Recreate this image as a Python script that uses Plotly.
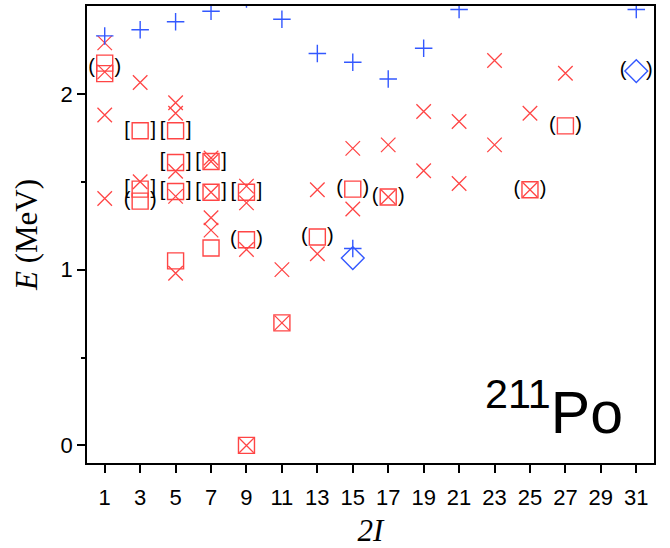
import plotly.graph_objects as go

# Level scheme of 211Po: spin (2I) vs. excitation energy E (MeV)

# Blue "+" levels
plus_2I = [1, 3, 5, 7, 9, 11, 13, 15, 17, 19, 21, 31, 15]
plus_E = [2.33, 2.365, 2.41, 2.47, 2.54, 2.425, 2.23, 2.18, 2.085, 2.26, 2.48, 2.48, 1.12]

# Red "x" levels
cross_2I = [1, 1, 1, 1,
            3, 3,
            5, 5, 5, 5, 5,
            7, 7, 7, 7, 7,
            9, 9, 9, 9,
            11, 11,
            13, 13,
            15, 15,
            17, 17,
            19, 19,
            21, 21,
            23, 23,
            25, 25,
            27, 27]
cross_E = [2.29, 2.125, 1.88, 1.405,
           2.065, 1.50,
           1.95, 1.89, 1.56, 1.417, 0.98,
           1.635, 1.615, 1.44, 1.295, 1.225,
           1.475, 1.38, 1.115, 0.0,
           1.0, 0.697,
           1.455, 1.09,
           1.69, 1.345,
           1.71, 1.413,
           1.90, 1.5625,
           1.843, 1.49,
           2.19, 1.71,
           1.89, 1.455,
           2.117, 2.55]

# Red open-square levels
square_2I = [1, 1, 3, 3, 3, 5, 5, 5, 5, 7, 7, 7, 9, 9, 9, 11, 13, 15, 17, 25, 27]
square_E = [2.175, 2.115, 1.79, 1.458, 1.39, 1.79, 1.61, 1.445, 1.05,
            1.615, 1.44, 1.123, 1.44, 1.17, 0.0, 0.697, 1.186, 1.458, 1.413,
            1.455, 1.818]

# Blue open-diamond levels
diamond_2I = [15, 31]
diamond_E = [1.066, 2.13]

# Tentative levels, shown in parentheses
paren_2I = [1, 3, 9, 13, 15, 17, 25, 27, 31]
paren_E = [2.145, 1.39, 1.17, 1.186, 1.458, 1.413, 1.455, 1.818, 2.13]

# Levels shown in square brackets
bracket_2I = [3, 3, 5, 5, 5, 7, 7, 9]
bracket_E = [1.79, 1.458, 1.79, 1.61, 1.445, 1.615, 1.44, 1.44]

x_ticks = list(range(1, 32, 2))
y_ticks = [0, 1, 2]
y_minor = [0.5, 1.5]

RED = "#ff4545"
BLUE = "#3358ff"
DX = 0.74  # horizontal offset of the brackets from the level marker

fig = go.Figure()

fig.add_trace(go.Scatter(
    x=square_2I, y=square_E, mode="markers",
    marker=dict(symbol="square-open", size=16, color=RED, line=dict(width=1.4, color=RED)),
))
fig.add_trace(go.Scatter(
    x=cross_2I, y=cross_E, mode="markers",
    marker=dict(symbol="x-thin-open", size=14.5, color=RED, line=dict(width=1.3, color=RED)),
))
fig.add_trace(go.Scatter(
    x=plus_2I, y=plus_E, mode="markers",
    marker=dict(symbol="cross-thin-open", size=12.5, color=BLUE, line=dict(width=1.4, color=BLUE)),
))
fig.add_trace(go.Scatter(
    x=diamond_2I, y=diamond_E, mode="markers",
    marker=dict(symbol="diamond-open", size=17.5, color=BLUE, line=dict(width=1.4, color=BLUE)),
))

bracket_font = dict(family="Liberation Sans, Arial, sans-serif", size=20, color="black")
for xs, ys, left, right in [(paren_2I, paren_E, "(", ")"), (bracket_2I, bracket_E, "[", "]")]:
    fig.add_trace(go.Scatter(
        x=[v - DX for v in xs] + [v + DX for v in xs], y=list(ys) + list(ys),
        mode="text", text=[left] * len(xs) + [right] * len(xs),
        textposition="middle center", textfont=bracket_font,
    ))

fig.add_annotation(
    x=26.35, y=0.21, xref="x", yref="y", showarrow=False,
    text="<sup>211</sup>Po", xanchor="center", yanchor="middle",
    font=dict(family="Liberation Sans, Arial, sans-serif", size=59, color="black"),
)

axis_common = dict(
    showgrid=False, zeroline=False, showline=True, linecolor="black", linewidth=1.5,
    mirror=True, ticks="outside", ticklen=8, tickwidth=1.5, tickcolor="black",
    automargin=False,
    tickfont=dict(family="Liberation Sans, Arial, sans-serif", size=22, color="black"),
)

fig.update_layout(
    width=670, height=548,
    margin=dict(l=87, r=16, t=6, b=85),
    paper_bgcolor="white", plot_bgcolor="white",
    showlegend=False,
    xaxis=dict(
        range=[0, 32], tickmode="array", tickvals=x_ticks,
        ticktext=[str(v) for v in x_ticks], ticklabelstandoff=6,
        title=dict(text="<i>2I</i>", standoff=14,
                   font=dict(family="Liberation Serif, Times New Roman, serif", size=31, color="black")),
        **axis_common,
    ),
    yaxis=dict(
        range=[-0.1, 2.5], tickmode="array", tickvals=y_ticks,
        minor=dict(tickvals=y_minor, ticks="outside", ticklen=4, tickwidth=1.5, tickcolor="black"),
        title=dict(text="<i>E</i> (MeV)", standoff=14,
                   font=dict(family="Liberation Serif, Times New Roman, serif", size=31, color="black")),
        **axis_common,
    ),
)

fig.write_html("out.html")
